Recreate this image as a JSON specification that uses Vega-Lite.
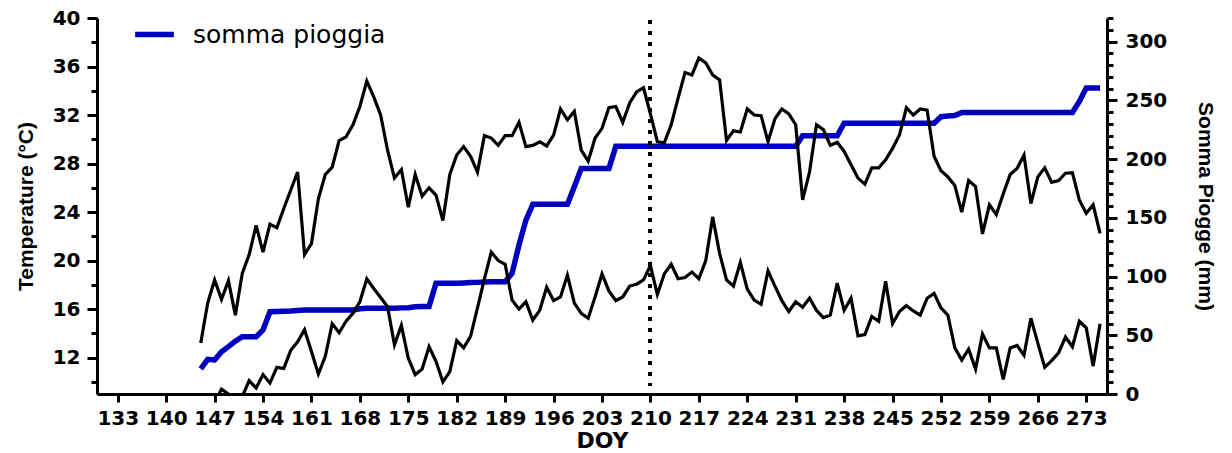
{
  "$schema": "https://vega.github.io/schema/vega-lite/v6.json",
  "width": 1010,
  "height": 376,
  "autosize": {"type": "none"},
  "padding": {"left": 97, "top": 18, "right": 125, "bottom": 59},
  "background": "#ffffff",
  "data": {
    "values": [
      {"doy":145,"tmax":13.2,"tmin":6.5,"rain":21.3},
      {"doy":146,"tmax":16.5,"tmin":7.5,"rain":29.5},
      {"doy":147,"tmax":18.4,"tmin":8.3,"rain":29},
      {"doy":148,"tmax":16.8,"tmin":9.4,"rain":36},
      {"doy":149,"tmax":18.35,"tmin":9.0,"rain":40.3},
      {"doy":150,"tmax":15.5,"tmin":8.6,"rain":45},
      {"doy":151,"tmax":18.95,"tmin":8.8,"rain":48.8},
      {"doy":152,"tmax":20.5,"tmin":10.1,"rain":48.8},
      {"doy":153,"tmax":22.9,"tmin":9.5,"rain":48.8},
      {"doy":154,"tmax":20.7,"tmin":10.6,"rain":54.5},
      {"doy":155,"tmax":23.0,"tmin":9.9,"rain":70},
      {"doy":156,"tmax":22.7,"tmin":11.2,"rain":70.2},
      {"doy":157,"tmax":24.3,"tmin":11.1,"rain":70.4},
      {"doy":158,"tmax":25.8,"tmin":12.6,"rain":70.6},
      {"doy":159,"tmax":27.3,"tmin":13.3,"rain":71},
      {"doy":160,"tmax":20.5,"tmin":14.3,"rain":71.5},
      {"doy":161,"tmax":21.4,"tmin":12.5,"rain":71.5},
      {"doy":162,"tmax":25.1,"tmin":10.65,"rain":71.5},
      {"doy":163,"tmax":27.1,"tmin":12.1,"rain":71.5},
      {"doy":164,"tmax":27.7,"tmin":14.8,"rain":71.5},
      {"doy":165,"tmax":29.9,"tmin":14.05,"rain":71.5},
      {"doy":166,"tmax":30.2,"tmin":15.0,"rain":71.5},
      {"doy":167,"tmax":31.2,"tmin":15.65,"rain":71.5},
      {"doy":168,"tmax":32.7,"tmin":16.6,"rain":72.5},
      {"doy":169,"tmax":34.8,"tmin":18.5,"rain":73},
      {"doy":170,"tmax":33.5,"tmin":17.7,"rain":73},
      {"doy":171,"tmax":32.0,"tmin":16.95,"rain":73},
      {"doy":172,"tmax":29.1,"tmin":16.2,"rain":73},
      {"doy":173,"tmax":26.8,"tmin":13.05,"rain":73},
      {"doy":174,"tmax":27.5,"tmin":14.65,"rain":73.3},
      {"doy":175,"tmax":24.4,"tmin":11.95,"rain":73.5},
      {"doy":176,"tmax":27.1,"tmin":10.6,"rain":74.3},
      {"doy":177,"tmax":25.3,"tmin":11.05,"rain":74.5},
      {"doy":178,"tmax":26.0,"tmin":12.9,"rain":74.5},
      {"doy":179,"tmax":25.4,"tmin":11.7,"rain":94.2},
      {"doy":180,"tmax":23.3,"tmin":10.0,"rain":94.3},
      {"doy":181,"tmax":27.1,"tmin":10.85,"rain":94.3},
      {"doy":182,"tmax":28.7,"tmin":13.4,"rain":94.3},
      {"doy":183,"tmax":29.4,"tmin":12.8,"rain":94.5},
      {"doy":184,"tmax":28.6,"tmin":13.75,"rain":94.8},
      {"doy":185,"tmax":27.3,"tmin":16.1,"rain":95},
      {"doy":186,"tmax":30.3,"tmin":18.5,"rain":95.3},
      {"doy":187,"tmax":30.1,"tmin":20.7,"rain":95.5},
      {"doy":188,"tmax":29.5,"tmin":20.0,"rain":95.6},
      {"doy":189,"tmax":30.3,"tmin":19.7,"rain":95.6},
      {"doy":190,"tmax":30.3,"tmin":16.75,"rain":102.7},
      {"doy":191,"tmax":31.4,"tmin":16.0,"rain":126.8},
      {"doy":192,"tmax":29.4,"tmin":16.6,"rain":148},
      {"doy":193,"tmax":29.5,"tmin":15.1,"rain":161.5},
      {"doy":194,"tmax":29.8,"tmin":15.9,"rain":161.5},
      {"doy":195,"tmax":29.45,"tmin":17.8,"rain":161.5},
      {"doy":196,"tmax":30.35,"tmin":16.7,"rain":161.5},
      {"doy":197,"tmax":32.5,"tmin":17.0,"rain":161.5},
      {"doy":198,"tmax":31.6,"tmin":18.8,"rain":161.5},
      {"doy":199,"tmax":32.3,"tmin":16.5,"rain":176.4},
      {"doy":200,"tmax":29.1,"tmin":15.65,"rain":192},
      {"doy":201,"tmax":28.2,"tmin":15.25,"rain":192},
      {"doy":202,"tmax":30.1,"tmin":17.0,"rain":192},
      {"doy":203,"tmax":30.9,"tmin":18.9,"rain":192},
      {"doy":204,"tmax":32.6,"tmin":17.5,"rain":192},
      {"doy":205,"tmax":32.7,"tmin":16.7,"rain":210.8},
      {"doy":206,"tmax":31.4,"tmin":17.0,"rain":210.8},
      {"doy":207,"tmax":33.0,"tmin":17.9,"rain":210.8},
      {"doy":208,"tmax":33.9,"tmin":18.05,"rain":210.8},
      {"doy":209,"tmax":34.25,"tmin":18.4,"rain":210.8},
      {"doy":210,"tmax":32.1,"tmin":19.6,"rain":210.8},
      {"doy":211,"tmax":29.8,"tmin":17.2,"rain":210.8},
      {"doy":212,"tmax":29.7,"tmin":18.9,"rain":210.8},
      {"doy":213,"tmax":31.2,"tmin":19.7,"rain":210.8},
      {"doy":214,"tmax":33.4,"tmin":18.5,"rain":210.8},
      {"doy":215,"tmax":35.5,"tmin":18.6,"rain":210.8},
      {"doy":216,"tmax":35.3,"tmin":19.05,"rain":210.8},
      {"doy":217,"tmax":36.7,"tmin":18.5,"rain":210.8},
      {"doy":218,"tmax":36.3,"tmin":20.0,"rain":210.8},
      {"doy":219,"tmax":35.3,"tmin":23.6,"rain":210.8},
      {"doy":220,"tmax":34.9,"tmin":20.6,"rain":210.8},
      {"doy":221,"tmax":29.9,"tmin":18.4,"rain":210.8},
      {"doy":222,"tmax":30.7,"tmin":17.9,"rain":210.8},
      {"doy":223,"tmax":30.6,"tmin":19.85,"rain":210.8},
      {"doy":224,"tmax":32.5,"tmin":17.65,"rain":210.8},
      {"doy":225,"tmax":32.0,"tmin":16.75,"rain":210.8},
      {"doy":226,"tmax":31.95,"tmin":16.4,"rain":210.8},
      {"doy":227,"tmax":29.8,"tmin":19.15,"rain":210.8},
      {"doy":228,"tmax":31.7,"tmin":17.9,"rain":210.8},
      {"doy":229,"tmax":32.5,"tmin":16.7,"rain":210.8},
      {"doy":230,"tmax":32.1,"tmin":15.8,"rain":210.8},
      {"doy":231,"tmax":31.2,"tmin":16.6,"rain":210.8},
      {"doy":232,"tmax":25.0,"tmin":16.15,"rain":219.8},
      {"doy":233,"tmax":27.3,"tmin":16.9,"rain":219.8},
      {"doy":234,"tmax":31.2,"tmin":15.9,"rain":219.8},
      {"doy":235,"tmax":30.8,"tmin":15.3,"rain":219.8},
      {"doy":236,"tmax":29.5,"tmin":15.5,"rain":219.8},
      {"doy":237,"tmax":29.75,"tmin":18.15,"rain":219.8},
      {"doy":238,"tmax":29.0,"tmin":15.9,"rain":230.4},
      {"doy":239,"tmax":27.9,"tmin":16.9,"rain":230.4},
      {"doy":240,"tmax":26.8,"tmin":13.8,"rain":230.4},
      {"doy":241,"tmax":26.3,"tmin":13.9,"rain":230.4},
      {"doy":242,"tmax":27.65,"tmin":15.4,"rain":230.4},
      {"doy":243,"tmax":27.65,"tmin":15.0,"rain":230.4},
      {"doy":244,"tmax":28.3,"tmin":18.3,"rain":230.4},
      {"doy":245,"tmax":29.25,"tmin":14.8,"rain":230.4},
      {"doy":246,"tmax":30.35,"tmin":15.8,"rain":230.4},
      {"doy":247,"tmax":32.6,"tmin":16.3,"rain":230.4},
      {"doy":248,"tmax":32.0,"tmin":15.85,"rain":230.4},
      {"doy":249,"tmax":32.5,"tmin":15.5,"rain":230.4},
      {"doy":250,"tmax":32.4,"tmin":16.9,"rain":230.4},
      {"doy":251,"tmax":28.6,"tmin":17.3,"rain":230.4},
      {"doy":252,"tmax":27.4,"tmin":16.1,"rain":236},
      {"doy":253,"tmax":26.9,"tmin":15.5,"rain":236.5},
      {"doy":254,"tmax":26.2,"tmin":12.8,"rain":237},
      {"doy":255,"tmax":24.0,"tmin":11.8,"rain":239.6},
      {"doy":256,"tmax":26.6,"tmin":12.7,"rain":239.6},
      {"doy":257,"tmax":26.1,"tmin":11.05,"rain":239.6},
      {"doy":258,"tmax":22.2,"tmin":13.95,"rain":239.6},
      {"doy":259,"tmax":24.6,"tmin":12.8,"rain":239.6},
      {"doy":260,"tmax":23.8,"tmin":12.8,"rain":239.6},
      {"doy":261,"tmax":25.5,"tmin":10.2,"rain":239.6},
      {"doy":262,"tmax":27.1,"tmin":12.8,"rain":239.6},
      {"doy":263,"tmax":27.6,"tmin":13.0,"rain":239.6},
      {"doy":264,"tmax":28.7,"tmin":12.2,"rain":239.6},
      {"doy":265,"tmax":24.7,"tmin":15.25,"rain":239.6},
      {"doy":266,"tmax":26.9,"tmin":13.2,"rain":239.6},
      {"doy":267,"tmax":27.65,"tmin":11.2,"rain":239.6},
      {"doy":268,"tmax":26.45,"tmin":11.75,"rain":239.6},
      {"doy":269,"tmax":26.6,"tmin":12.4,"rain":239.6},
      {"doy":270,"tmax":27.2,"tmin":13.7,"rain":239.6},
      {"doy":271,"tmax":27.25,"tmin":12.9,"rain":239.6},
      {"doy":272,"tmax":25.0,"tmin":15.0,"rain":249},
      {"doy":273,"tmax":23.9,"tmin":14.45,"rain":260.5},
      {"doy":274,"tmax":24.6,"tmin":11.3,"rain":260.5},
      {"doy":275,"tmax":22.25,"tmin":14.8,"rain":260.5}
    ]
  },
  "layer": [
    {
      "mark": {"type": "line", "strokeWidth": 5.5, "clip": true},
      "encoding": {
        "x": {
          "field": "doy", "type": "quantitative",
          "scale": {"domain": [130, 276], "nice": false, "zero": false},
          "axis": {
            "title": "DOY",
            "values": [133,140,147,154,161,168,175,182,189,196,203,210,217,224,231,238,245,252,259,266,273],
            "tickSize": 8, "labelPadding": 6,
            "titleFont": "DejaVu Sans", "titleFontWeight": "bold", "titleFontSize": 22, "titlePadding": 2
          }
        },
        "y": {
          "field": "rain", "type": "quantitative",
          "scale": {"domain": [0, 320], "nice": false, "zero": false},
          "axis": {
            "orient": "right",
            "title": "Somma Piogge (mm)",
            "values": [0,10,20,30,40,50,60,70,80,90,100,110,120,130,140,150,160,170,180,190,200,210,220,230,240,250,260,270,280,290,300,310,320],
            "labelExpr": "datum.value % 50 == 0 ? datum.label : ''",
            "tickSize": {"condition": {"test": "datum.value % 50 == 0", "value": 10}, "value": 6},
            "labelPadding": 8,
            "titlePadding": 28
          }
        },
        "color": {
          "datum": "somma pioggia", "type": "nominal",
          "scale": {"range": ["#0000bf"]},
          "legend": {
            "orient": "none", "legendX": 35, "legendY": -6, "title": null,
            "padding": 0,
            "symbolType": "stroke", "symbolSize": 1500, "symbolStrokeWidth": 5.5,
            "labelFont": "DejaVu Sans", "labelFontSize": 25, "labelFontWeight": "normal",
            "labelOffset": 16, "labelColor": "#000000", "labelLimit": 500
          }
        }
      }
    },
    {
      "layer": [
        {
          "transform": [{"fold": ["tmax", "tmin"], "as": ["serie", "temp"]}],
          "mark": {"type": "line", "strokeWidth": 3.2, "color": "#000000", "clip": true},
          "encoding": {
            "x": {
              "field": "doy", "type": "quantitative",
              "scale": {"domain": [130, 276], "nice": false, "zero": false},
              "axis": {
                "title": "DOY",
                "values": [133,140,147,154,161,168,175,182,189,196,203,210,217,224,231,238,245,252,259,266,273],
                "tickSize": 8, "labelPadding": 6,
                "titleFont": "DejaVu Sans", "titleFontWeight": "bold", "titleFontSize": 22, "titlePadding": 2
              }
            },
            "y": {
              "field": "temp", "type": "quantitative",
              "scale": {"domain": [9, 40], "nice": false, "zero": false},
              "axis": {
                "orient": "left",
                "title": "Temperature (°C)",
                "values": [10,12,14,16,18,20,22,24,26,28,30,32,34,36,38,40],
                "labelExpr": "datum.value % 4 == 0 ? datum.label : ''",
                "tickSize": {"condition": {"test": "datum.value % 4 == 0", "value": 10}, "value": 6},
                "labelPadding": 7,
                "titlePadding": 16
              }
            },
            "detail": {"field": "serie", "type": "nominal"}
          }
        },
        {
          "mark": {"type": "rule", "strokeWidth": 3, "strokeDash": [3, 8], "color": "#000000"},
          "encoding": {
            "x": {
              "datum": 210, "type": "quantitative",
              "scale": {"domain": [130, 276], "nice": false, "zero": false},
              "axis": {
                "title": "DOY",
                "values": [133,140,147,154,161,168,175,182,189,196,203,210,217,224,231,238,245,252,259,266,273],
                "tickSize": 8, "labelPadding": 6,
                "titleFont": "DejaVu Sans", "titleFontWeight": "bold", "titleFontSize": 22, "titlePadding": 2
              }
            },
            "y": {
              "datum": 39.8, "type": "quantitative",
              "scale": {"domain": [9, 40], "nice": false, "zero": false},
              "axis": {
                "orient": "left",
                "title": "Temperature (°C)",
                "values": [10,12,14,16,18,20,22,24,26,28,30,32,34,36,38,40],
                "labelExpr": "datum.value % 4 == 0 ? datum.label : ''",
                "tickSize": {"condition": {"test": "datum.value % 4 == 0", "value": 10}, "value": 6},
                "labelPadding": 7,
                "titlePadding": 16
              }
            },
            "y2": {"datum": 9.7}
          }
        }
      ]
    }
  ],
  "resolve": {"scale": {"y": "independent"}},
  "config": {
    "view": {"stroke": null},
    "axis": {
      "grid": false,
      "domainColor": "#000000", "domainWidth": 3,
      "tickColor": "#000000", "tickWidth": 3,
      "labelColor": "#000000", "labelFont": "DejaVu Sans", "labelFontWeight": "bold", "labelFontSize": 20,
      "labelOverlap": false, "labelFlush": false, "labelBound": false,
      "titleColor": "#000000", "titleFont": "Liberation Sans", "titleFontWeight": "bold", "titleFontSize": 21
    }
  }
}
